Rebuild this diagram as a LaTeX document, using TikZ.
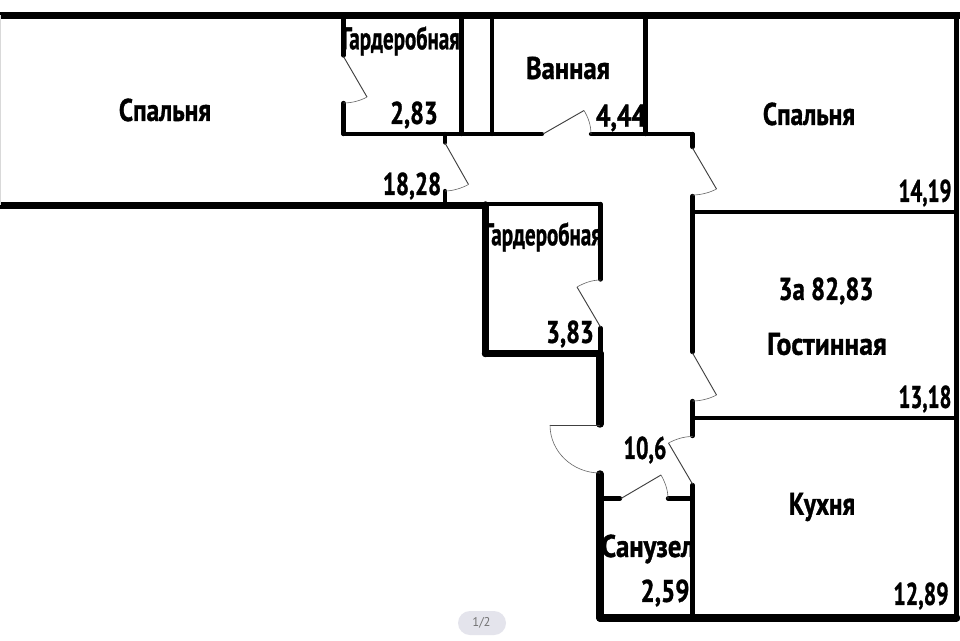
\documentclass[tikz,border=0pt]{standalone}
\usepackage{fontspec}
\setmainfont{PT Sans}
\newfontfamily\labfont[FakeBold=1.2]{PT Sans Bold}
\tikzset{
  x=0.75pt,y=-0.75pt,
  wallA/.style={line width=5.6pt,line cap=round,black},
  wallB/.style={line width=3.2pt,line cap=round,black},
  wallR/.style={line width=3.6pt,line cap=butt,black},
  leaf/.style={line width=0.7pt,black!75},
  swing/.style={line width=0.45pt,black!60},
  lab/.style={inner sep=0pt,font=\labfont\fontsize{23.5}{24}\selectfont},
}
\begin{document}
\begin{tikzpicture}
\useasboundingbox (0,0) rectangle (960,640);
\fill[white] (0,0) rectangle (960,640);
% outer walls
\draw[wallA,line cap=butt] (0,15.5) -- (960,15.5);
\draw[wallR] (956.5,15) -- (956.5,618);
\draw[wallA] (600,618) -- (956.5,618);
\draw[wallA,line cap=butt] (0,205.5) -- (445,205.5);
\draw[wallA] (445,205.5) -- (485.5,205.5);
\draw[wallB] (485.5,204) -- (600,204);
\draw[line width=0.5pt,black!15] (0.5,15) -- (0.5,205);
% top cupboards
\draw[wallB] (343.5,15) -- (343.5,55.5);
\draw[wallB] (343.5,103) -- (343.5,134);
\draw[wallB] (343.5,134) -- (542,134);
\draw[wallB] (591,134) -- (692.5,134);
\draw[wallB] (461.5,15) -- (461.5,134);
\draw[wallB] (492,15) -- (492,134);
\draw[wallB] (645.5,15) -- (645.5,134);
\draw[wallB] (445,134) -- (445,142.5);
\draw[wallB] (445,191) -- (445,205);
% right corridor wall
\draw[wallB] (692.5,134) -- (692.5,147);
\draw[wallB] (692.5,196) -- (692.5,352);
\draw[wallB] (692.5,401) -- (692.5,436);
\draw[wallB] (692.5,485) -- (692.5,618);
\draw[wallB] (692.5,212) -- (956,212);
\draw[wallB] (692.5,418) -- (956,418);
% dressing room
\draw[wallA] (485.5,205) -- (485.5,353.5);
\draw[wallA] (485.5,353.5) -- (600,353.5);
\draw[wallB] (600.5,204) -- (600.5,279.5);
\draw[wallB] (600.5,328) -- (600.5,353);
\draw[wallA] (600,353.5) -- (600,424);
\draw[wallA] (600,474) -- (600,618);
\draw[wallB] (600,498.5) -- (620,498.5);
\draw[wallB] (668,498.5) -- (692.5,498.5);
% doors
\draw[leaf] (343.5,56.5) -- (367,97);
\draw[swing] (367,97) .. controls (360,101) and (351,103) .. (343.5,103);
\draw[leaf] (445,143) -- (468.5,184.5);
\draw[swing] (468.5,184.5) .. controls (462,188) and (453,191) .. (445,191);
\draw[leaf] (543,134) -- (584,110.5);
\draw[swing] (584,110.5) .. controls (588,117) and (591,125) .. (591,134);
\draw[leaf] (692.5,148) -- (716.5,189);
\draw[swing] (716.5,189) .. controls (709,193) and (700,195) .. (692.5,195);
\draw[leaf] (600.5,327) -- (577,287);
\draw[swing] (577,287) .. controls (584,283) and (592,280) .. (600.5,280);
\draw[leaf] (692.5,353) -- (716.5,395);
\draw[swing] (716.5,395) .. controls (709,399) and (700,401) .. (692.5,401);
\draw[leaf] (600,425) -- (550,425);
\draw[swing] (550,425) .. controls (550,452) and (573,473) .. (600,473);
\draw[leaf] (621,498.5) -- (661,475);
\draw[swing] (661,475) .. controls (665,482) and (668,490) .. (668,498.5);
\draw[leaf] (692.5,484) -- (668.5,443);
\draw[swing] (668.5,443) .. controls (676,439) and (684,436.5) .. (692.5,436.5);
% labels
\node[lab,xscale=0.81] (a) at (165,110) {Спальня};
\node[lab,xscale=0.67] (b) at (401,41) {Гардеробная};
\node[lab,xscale=0.78] (c) at (414,115) {2,83};
\node[lab,xscale=0.74] (d) at (412,186) {18,28};
\node[lab,xscale=0.85] (e) at (568,68) {Ванная};
\node[lab,xscale=0.82] (f) at (621,118) {4,44};
\node[lab,xscale=0.81] (g) at (809,114) {Спальня};
\node[lab,xscale=0.67] (h) at (925,193) {14,19};
\node[lab,xscale=0.67] (i) at (543,237) {Гардеробная};
\node[lab,xscale=0.78] (j) at (570,334) {3,83};
\node[lab,xscale=0.79] (k) at (826,291) {3а 82,83};
\node[lab,xscale=0.88] (l) at (827,344) {Гостинная};
\node[lab,xscale=0.67] (m) at (925,399) {13,18};
\node[lab,xscale=0.70] (n) at (645,450) {10,6};
\node[lab,xscale=0.80] (o) at (822,507) {Кухня};
\node[lab,xscale=0.85] (p) at (648,549) {Санузел};
\node[lab,xscale=0.80] (q) at (665,593) {2,59};
\node[lab,xscale=0.70] (r) at (921,596) {12,89};
% page badge
\fill[rounded corners=9pt,fill=blue!18!gray!18] (458,611) rectangle (506,635);
\node[inner sep=0pt,font=\fontsize{9.5}{10}\selectfont,text=black!55] (s) at (481.5,623) {1/2};
\end{tikzpicture}
\end{document}
